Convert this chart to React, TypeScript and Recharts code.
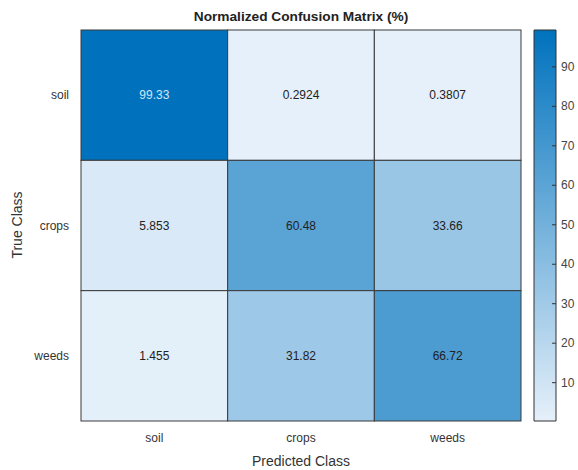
import { ComposedChart, ReferenceArea, Scatter, ScatterChart, XAxis, YAxis, Label } from 'recharts';

const classes = ['soil', 'crops', 'weeds'];
const soilRow = [99.33, 0.2924, 0.3807];
const cropsRow = [5.853, 60.48, 33.66];
const weedsRow = [1.455, 31.82, 66.72];
const rows = [soilRow, cropsRow, weedsRow];
const colorbarTicks = [10, 20, 30, 40, 50, 60, 70, 80, 90];

const W = 578;
const H = 470;
const M = { top: 30, right: 57, bottom: 19, left: 21 };
const Y_AXIS_W = 60;
const X_AXIS_H = 30;
const CELL_W = (W - M.left - Y_AXIS_W - M.right) / 3;
const CELL_H = (H - M.top - M.bottom - X_AXIS_H) / 3;
const FONT = '"Liberation Sans", Arial, sans-serif';

const cells = rows.flatMap((vals, r) => vals.map((v, c) => ({ x: c + 1, y: r + 1, v })));
const all = rows.flat();
const cMin = Math.min(...all);
const cMax = Math.max(...all);

const LO = [230, 240, 250];
const HI = [0, 114, 189];
const colorFor = (v: number) => {
  const t = (v - cMin) / (cMax - cMin);
  const c = LO.map((l, i) => Math.round(l + (HI[i] - l) * t));
  return `rgb(${c[0]},${c[1]},${c[2]})`;
};

const fmt = (v: number) => (v >= 10 ? v.toFixed(2) : v.toPrecision(4));

const CellShape = (props: any) => {
  const { cx, cy, payload } = props;
  const dark = (payload.v - cMin) / (cMax - cMin) > 0.75;
  return (
    <g>
      <rect
        x={cx - CELL_W / 2}
        y={cy - CELL_H / 2}
        width={CELL_W}
        height={CELL_H}
        fill={colorFor(payload.v)}
        stroke="#3a3a3a"
        strokeWidth={1}
      />
      <text
        x={cx}
        y={cy}
        textAnchor="middle"
        dominantBaseline="central"
        fontSize={12}
        fontFamily={FONT}
        fill={dark ? '#cfe6f8' : '#222'}
      >
        {fmt(payload.v)}
      </text>
    </g>
  );
};

const ColorbarTick = (props: any) => {
  const { x, y, payload } = props;
  return (
    <g>
      <line x1={x - 4} x2={x} y1={y} y2={y} stroke="#333" />
      <text x={x + 5} y={y} dominantBaseline="central" fontSize={12} fontFamily={FONT} fill="#444">
        {payload.value}
      </text>
    </g>
  );
};

export default function App() {
  return (
    <div style={{ position: 'absolute', left: 0, top: 0, width: W, height: H, background: '#fff', fontFamily: FONT }}>
      <div
        style={{
          position: 'absolute',
          left: 81,
          width: 440,
          top: 9,
          textAlign: 'center',
          fontWeight: 'bold',
          fontSize: 13.7,
          color: '#222',
        }}
      >
        Normalized Confusion Matrix (%)
      </div>
      <div style={{ position: 'absolute', left: 0, top: 0 }}>
        <ScatterChart width={W} height={H} margin={M}>
          <XAxis
            type="number"
            dataKey="x"
            domain={[0.5, 3.5]}
            ticks={[1, 2, 3]}
            tickFormatter={(v: number) => classes[v - 1]}
            axisLine={false}
            tickLine={false}
            height={X_AXIS_H}
            tick={{ fontSize: 12, fill: '#333', fontFamily: FONT }}
            tickMargin={6}
          >
            <Label
              content={() => (
                <text x={301} y={461} textAnchor="middle" dominantBaseline="central" fontSize={14} fontFamily={FONT} fill="#333">
                  Predicted Class
                </text>
              )}
            />
          </XAxis>
          <YAxis
            type="number"
            dataKey="y"
            domain={[0.5, 3.5]}
            reversed
            ticks={[1, 2, 3]}
            tickFormatter={(v: number) => classes[v - 1]}
            axisLine={false}
            tickLine={false}
            width={Y_AXIS_W}
            tick={{ fontSize: 12, fill: '#333', fontFamily: FONT }}
            tickMargin={6}
          >
            <Label
              content={() => (
                <text
                  x={17}
                  y={225}
                  textAnchor="middle"
                  dominantBaseline="central"
                  fontSize={14}
                  fontFamily={FONT}
                  fill="#333"
                  transform="rotate(-90 17 225)"
                >
                  True Class
                </text>
              )}
            />
          </YAxis>
          <Scatter data={cells} shape={CellShape} isAnimationActive={false} />
        </ScatterChart>
      </div>
      <div style={{ position: 'absolute', left: 0, top: 0 }}>
        <ComposedChart
          width={W}
          height={H}
          data={[{ x: 0 }, { x: 1 }]}
          margin={{ top: 30, right: 2, bottom: 49, left: 534 }}
        >
          <defs>
            <linearGradient id="cbGrad" x1="0" x2="0" y1="0" y2="1">
              <stop offset="0%" stopColor={colorFor(cMax)} />
              <stop offset="100%" stopColor={colorFor(cMin)} />
            </linearGradient>
          </defs>
          <XAxis type="number" dataKey="x" domain={[0, 1]} hide height={0} />
          <YAxis
            type="number"
            orientation="right"
            domain={[cMin, cMax]}
            ticks={colorbarTicks}
            width={20}
            axisLine={false}
            tickLine={false}
            tickSize={0}
            tickMargin={0}
            tick={<ColorbarTick />}
            allowDataOverflow
          />
          <ReferenceArea x1={0} x2={1} y1={cMin} y2={cMax} fill="url(#cbGrad)" fillOpacity={1} stroke="#333" />
        </ComposedChart>
      </div>
    </div>
  );
}
